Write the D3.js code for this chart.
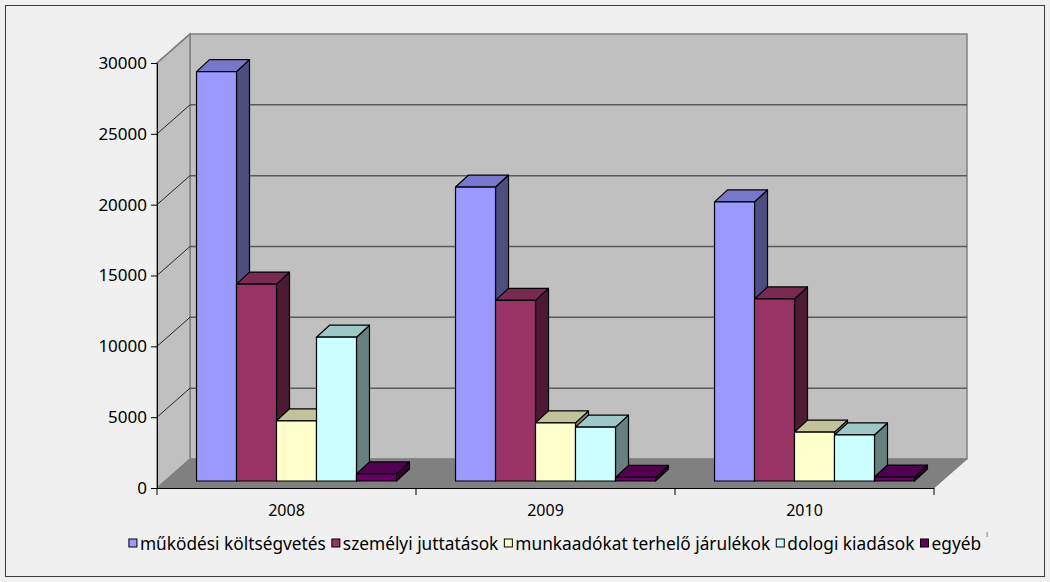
<!DOCTYPE html>
<html>
<head>
<meta charset="utf-8">
<script src="https://cdn.jsdelivr.net/npm/d3@7"></script>
<style>
  body { margin: 0; background: #f0f0f0; }
  svg { display: block; font-family: "Noto Sans", "Open Sans", sans-serif; }
</style>
</head>
<body>
<svg id="chart" width="1050" height="582"></svg>
<script>
// years on the x axis
const years = ["2008", "2009", "2010"];
// series names (legend)
const seriesNames = ["működési költségvetés", "személyi juttatások", "munkaadókat terhelő járulékok", "dologi kiadások", "egyéb"];
// values per series, one per year
const mukodesi = [28900, 20750, 19700];
const szemelyi = [13900, 12750, 12850];
const munkaado = [4250, 4100, 3450];
const dologi = [10150, 3800, 3250];
const egyeb = [500, 250, 280];
const yTicks = [0, 5000, 10000, 15000, 20000, 25000, 30000];

const seriesValues = [mukodesi, szemelyi, munkaado, dologi, egyeb];
// front / top / side colours of the bars
const faceColors = [
  {front: "#9999ff", top: "#7777cc", side: "#4d4d80"},
  {front: "#993366", top: "#7a2950", side: "#4d1a33"},
  {front: "#ffffcc", top: "#c2c29b", side: "#80806a"},
  {front: "#ccffff", top: "#9cc8c8", side: "#668080"},
  {front: "#660066", top: "#520052", side: "#330033"}
];

const svg = d3.select("#chart");

// frame round the whole chart
svg.append("rect")
  .attr("x", 5.5).attr("y", 5.5)
  .attr("width", 1039).attr("height", 571)
  .style("fill", "#f0f0f0").style("stroke", "#3c3c3c").style("stroke-width", 1);

const plot = {left: 157, right: 934, top: 63, bottom: 488};
const wall = {dx: 33, dy: -29};      // depth of the floor / walls
const barShift = {dx: 10, dy: -7};   // where bar fronts sit in depth
const barDepth = {dx: 13, dy: -12};  // thickness of a bar

let yScale = d3.scaleLinear().domain([0, 30000]).range([plot.bottom, plot.top]);
let x0 = d3.scaleBand().domain(years).range([plot.left, plot.right]);
const groupW = x0.bandwidth() * 0.772;
let x1 = d3.scaleBand().domain(d3.range(seriesNames.length))
  .range([(x0.bandwidth() - groupW) / 2, (x0.bandwidth() + groupW) / 2]);

const poly = pts => pts.map(p => p.join(",")).join(" ");

// back wall
let walls = svg.append("g").attr("id", "walls");
walls.append("polygon")
  .attr("points", poly([
    [plot.left + wall.dx, plot.top + wall.dy], [plot.right + wall.dx, plot.top + wall.dy],
    [plot.right + wall.dx, plot.bottom + wall.dy], [plot.left + wall.dx, plot.bottom + wall.dy]]))
  .style("fill", "#c0c0c0").style("stroke", "#808080").style("stroke-width", 1.5);
// side wall
walls.append("polygon")
  .attr("points", poly([
    [plot.left, plot.top], [plot.left + wall.dx, plot.top + wall.dy],
    [plot.left + wall.dx, plot.bottom + wall.dy], [plot.left, plot.bottom]]))
  .style("fill", "#c0c0c0").style("stroke", "#808080").style("stroke-width", 1.5);

// gridlines on back wall and side wall
let grid = svg.append("g").attr("id", "grid");
yTicks.filter(t => t > 0 && t < 30000).forEach(t => {
  let y = yScale(t);
  grid.append("line")
    .attr("x1", plot.left + wall.dx).attr("x2", plot.right + wall.dx)
    .attr("y1", y + wall.dy).attr("y2", y + wall.dy)
    .style("stroke", "#5a5a5a").style("stroke-width", 1.5);
});
yTicks.filter(t => t > 0).forEach(t => {
  let y = yScale(t);
  grid.append("line")
    .attr("x1", plot.left).attr("y1", y)
    .attr("x2", plot.left + wall.dx).attr("y2", y + wall.dy)
    .style("stroke", t === 30000 ? "#808080" : "#000").style("stroke-width", t === 30000 ? 1.5 : 0.8);
});

// floor
walls.append("polygon")
  .attr("points", poly([
    [plot.left, plot.bottom], [plot.right, plot.bottom],
    [plot.right + wall.dx, plot.bottom + wall.dy], [plot.left + wall.dx, plot.bottom + wall.dy]]))
  .style("fill", "#808080").style("stroke", "#808080").style("stroke-width", 1);

// bars
let bars = svg.append("g").attr("id", "bars");
years.forEach((yr, yi) => {
  seriesValues.forEach((vals, si) => {
    let v = vals[yi];
    let xl = x0(yr) + x1(si) + barShift.dx;
    let xr = xl + x1.bandwidth();
    let yb = yScale(0) + barShift.dy;
    let yt = yScale(v) + barShift.dy;
    let c = faceColors[si];
    let g = bars.append("g");
    g.append("polygon")
      .attr("points", poly([[xr, yt], [xr + barDepth.dx, yt + barDepth.dy], [xr + barDepth.dx, yb + barDepth.dy], [xr, yb]]))
      .style("fill", c.side);
    g.append("polygon")
      .attr("points", poly([[xl, yt], [xl + barDepth.dx, yt + barDepth.dy], [xr + barDepth.dx, yt + barDepth.dy], [xr, yt]]))
      .style("fill", c.top);
    g.append("rect")
      .attr("x", xl).attr("y", yt)
      .attr("width", xr - xl).attr("height", yb - yt)
      .style("fill", c.front);
    g.selectAll("polygon, rect").style("stroke", "#000").style("stroke-width", 1.2).style("stroke-linejoin", "round");
  });
});

// y axis
let yAxis = d3.axisLeft(yScale).tickValues(yTicks).tickFormat(d3.format("d"))
  .tickSizeOuter(0).tickSize(6).tickPadding(4);
let yg = svg.append("g").attr("transform", "translate(" + plot.left + ",0)").call(yAxis);
yg.select(".domain").style("stroke", "#000");
yg.selectAll("line").style("stroke", "#000");
yg.selectAll("text").style("font-size", "17px").style("fill", "#000")
  .attr("font-family", "\"Noto Sans\", sans-serif");

// x axis
let xAxis = d3.axisBottom(x0).tickSize(0).tickSizeOuter(0).tickPadding(17);
let xg = svg.append("g").attr("transform", "translate(0," + plot.bottom + ")").call(xAxis);
xg.select(".domain").style("stroke", "#000");
xg.selectAll("text").style("font-size", "16px").style("fill", "#000")
  .attr("font-family", "\"Noto Sans\", sans-serif");
// category separators
let sepX = years.map(y => x0(y)).concat([plot.right]);
xg.selectAll(".sep").data(sepX).enter().append("line")
  .attr("x1", d => d).attr("x2", d => d)
  .attr("y1", 0).attr("y2", 7)
  .style("stroke", "#000");

// legend
let legend = svg.append("g").attr("id", "legend");
let lx = 0;
seriesNames.forEach((name, i) => {
  let item = legend.append("g").attr("transform", "translate(" + lx + ",0)");
  item.append("rect")
    .attr("x", 0).attr("y", -11).attr("width", 8).attr("height", 8)
    .style("fill", faceColors[i].front).style("stroke", "#000").style("stroke-width", 1);
  let t = item.append("text")
    .attr("x", 11).attr("y", 0)
    .style("font-size", "17.3px").style("fill", "#000")
    .text(name);
  lx += 11 + t.node().getComputedTextLength() + 6;
});
let legW = lx - 6;
legend.attr("transform", "translate(" + (555 - legW / 2) + ",550)");
// small mark after the legend
legend.append("line")
  .attr("x1", legW + 6).attr("x2", legW + 6)
  .attr("y1", -18).attr("y2", -13)
  .style("stroke", "#808080");
</script>
</body>
</html>
